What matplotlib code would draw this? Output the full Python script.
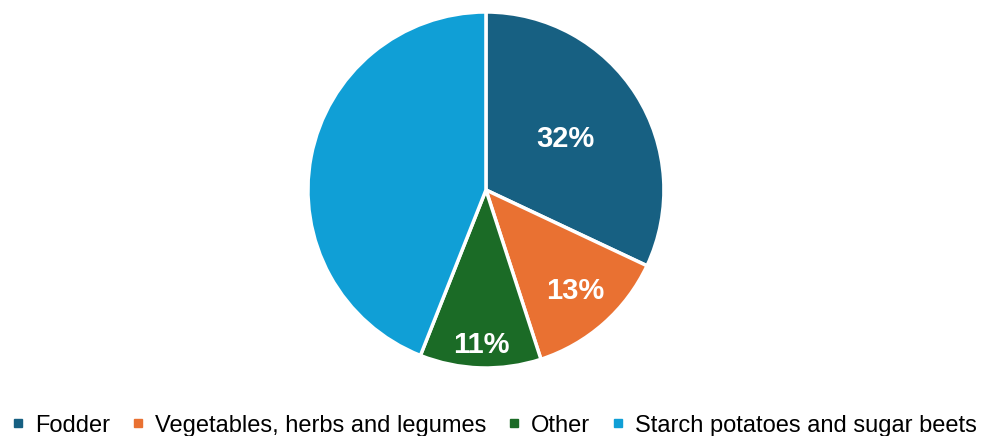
import numpy as np
import matplotlib

matplotlib.use("Agg")
import matplotlib.pyplot as plt
from matplotlib.lines import Line2D

plt.rcParams["font.family"] = ["Liberation Sans", "DejaVu Sans"]

categories = ["Fodder", "Vegetables, herbs and legumes", "Other", "Starch potatoes and sugar beets"]
shares = [32, 13, 11, 44]
colors = ["#176082", "#E97132", "#1B6B26", "#109FD6"]
show_label = [True, True, True, False]
label_radius = [0.53, 0.76, 0.87, 0.6]

fig = plt.figure(figsize=(9.88, 4.36), dpi=100)
ax = fig.add_axes([0.3117, 0.156, 0.3603, 0.8165])

wedges, _ = ax.pie(
    shares,
    colors=colors,
    startangle=90,
    counterclock=False,
    wedgeprops=dict(edgecolor="white", linewidth=2.5),
)
ax.set_aspect("auto")
ax.set_xlim(-1, 1)
ax.set_ylim(-1, 1)

for wedge, value, show, r in zip(wedges, shares, show_label, label_radius):
    if not show:
        continue
    mid = np.deg2rad((wedge.theta1 + wedge.theta2) / 2)
    ax.text(r * np.cos(mid), r * np.sin(mid), f"{value}%", ha="center", va="center",
            color="white", fontsize=21, fontweight="bold")

handles = [Line2D([], [], marker="s", linestyle="none", markersize=6,
                  markerfacecolor=c, markeredgecolor=c) for c in colors]
fig.legend(handles, categories, loc="lower center", ncol=4, frameon=False,
           bbox_to_anchor=(0.5, -0.05), fontsize=17, handletextpad=0.4,
           columnspacing=0.9, handlelength=0.6)

fig.savefig("out.png", dpi=100)
